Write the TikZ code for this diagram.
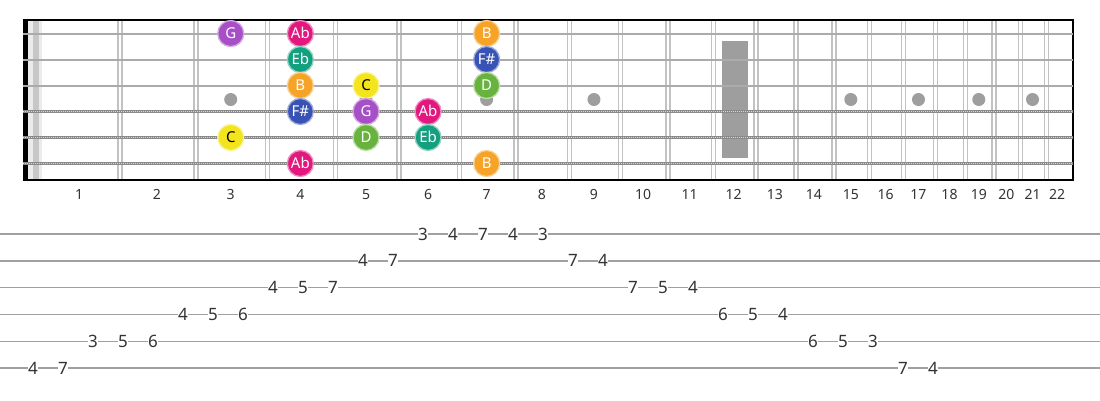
\documentclass[tikz,border=0pt]{standalone}
\usepackage{fontspec}
\setmainfont{Noto Sans}
\usetikzlibrary{positioning}

\definecolor{colG}{HTML}{A64FC6}
\definecolor{colAb}{HTML}{E3187F}
\definecolor{colEb}{HTML}{12A07E}
\definecolor{colB}{HTML}{F6A327}
\definecolor{colC}{HTML}{F3E41E}
\definecolor{colFs}{HTML}{3852B6}
\definecolor{colD}{HTML}{68B33D}
\definecolor{fretgray}{HTML}{C2C2C2}
\definecolor{stringgray}{HTML}{ABABAB}
\definecolor{woundgray}{HTML}{8A8A8A}
\definecolor{inlaygray}{HTML}{9E9E9E}
\definecolor{tabgray}{HTML}{A0A0A0}

\tikzset{
  declare function={fretx(\n)=40+1432*(1-2^(-\n/12)); fretc(\n)=(fretx(\n-1)+fretx(\n))/2-1;},
  note/.style={circle,minimum size=26pt,inner sep=0pt,line width=1.3pt,
    font=\fontsize{15}{15}\selectfont,text=white,text height=10.5pt,text depth=0pt},
  nG/.style={note,fill=colG,draw=colG!50!white},
  nAb/.style={note,fill=colAb,draw=colAb!50!white},
  nEb/.style={note,fill=colEb,draw=colEb!45!white},
  nB/.style={note,fill=colB,draw=colB!50!white},
  nC/.style={note,fill=colC,draw=colC!45!white,text=black},
  nFs/.style={note,fill=colFs,draw=colFs!50!white},
  nD/.style={note,fill=colD,draw=colD!45!white},
  fretnum/.style={font=\fontsize{14}{14}\selectfont,text=black!80,anchor=base},
  tabnum/.style={fill=white,inner xsep=0.6pt,inner ysep=1pt,anchor=base,
    font=\fontsize{17}{17}\selectfont,text=black!80},
  fretwire/.style={draw=fretgray,line width=1.3pt},
  plainstring/.style={draw=stringgray,line width=2pt},
  woundstring/.style={draw=woundgray,line width=3.6pt},
  windings/.style={draw=white!85!black,line width=1.4pt,dash pattern=on 1pt off 1pt},
}

\begin{document}
\begin{tikzpicture}[x=1pt,y=-1pt]
\useasboundingbox[fill=white] (0,0) rectangle (1100,400);

% nut and the band beside it
\fill[black!8] (28,20) rectangle (42,180);
\fill[black!22] (33,20) rectangle (39,180);
\fill[black] (23,20) rectangle (27.5,180);

% inlays
\foreach \f in {3,5,7,9,15,17,19,21}
  \fill[inlaygray] ({fretc(\f)},99.5) circle (6.5);
\fill[inlaygray] (722,41) rectangle (748,158);

% frets
\foreach \f in {1,...,21}
  \draw[fretwire] ({fretx(\f)-2},20) -- ({fretx(\f)-2},180)
                  ({fretx(\f)+2},20) -- ({fretx(\f)+2},180);

% border
\draw[line width=1.5pt] (23,20) -- (1073,20);
\draw[line width=1.5pt] (23,180) -- (1073,180);
\draw[line width=2.2pt] (1073,19.3) -- (1073,180.7);

% strings
\foreach \s in {1,2,3}
  \draw[plainstring] (23,{33.5+26*(\s-1)}) -- (1073,{33.5+26*(\s-1)});
\foreach \s in {4,5,6} {
  \draw[woundstring] (23,{33.5+26*(\s-1)}) -- (1073,{33.5+26*(\s-1)});
  \draw[windings] (23,{33.5+26*(\s-1)}) -- (1073,{33.5+26*(\s-1)});
}

% notes
\foreach \s/\f/\st/\nm in {1/3/nG/G, 1/4/nAb/Ab, 1/7/nB/B,
    2/4/nEb/Eb, 2/7/nFs/F\#,
    3/4/nB/B, 3/5/nC/C, 3/7/nD/D,
    4/4/nFs/F\#, 4/5/nG/G, 4/6/nAb/Ab,
    5/3/nC/C, 5/5/nD/D, 5/6/nEb/Eb,
    6/4/nAb/Ab, 6/7/nB/B}
  \node[\st] (s\s f\f) at ({fretc(\f)},{33.5+26*(\s-1)}) {\nm};

% fret numbers
\foreach \f in {1,...,22}
  \node[fretnum] (f\f) at ({fretc(\f)},199) {\f};

% tab
\foreach \s in {1,...,6}
  \draw[draw=tabgray,line width=1.4pt] (0,{234+26.8*(\s-1)}) -- (1100,{234+26.8*(\s-1)});
\foreach \s/\f [count=\i] in {6/4,6/7,5/3,5/5,5/6,4/4,4/5,4/6,3/4,3/5,3/7,2/4,2/7,
    1/3,1/4,1/7,1/4,1/3,2/7,2/4,3/7,3/5,3/4,4/6,4/5,4/4,5/6,5/5,5/3,6/7,6/4}
  \node[tabnum] (t\i) at ({3+30*\i},{240+26.8*(\s-1)}) {\f};
\end{tikzpicture}
\end{document}
